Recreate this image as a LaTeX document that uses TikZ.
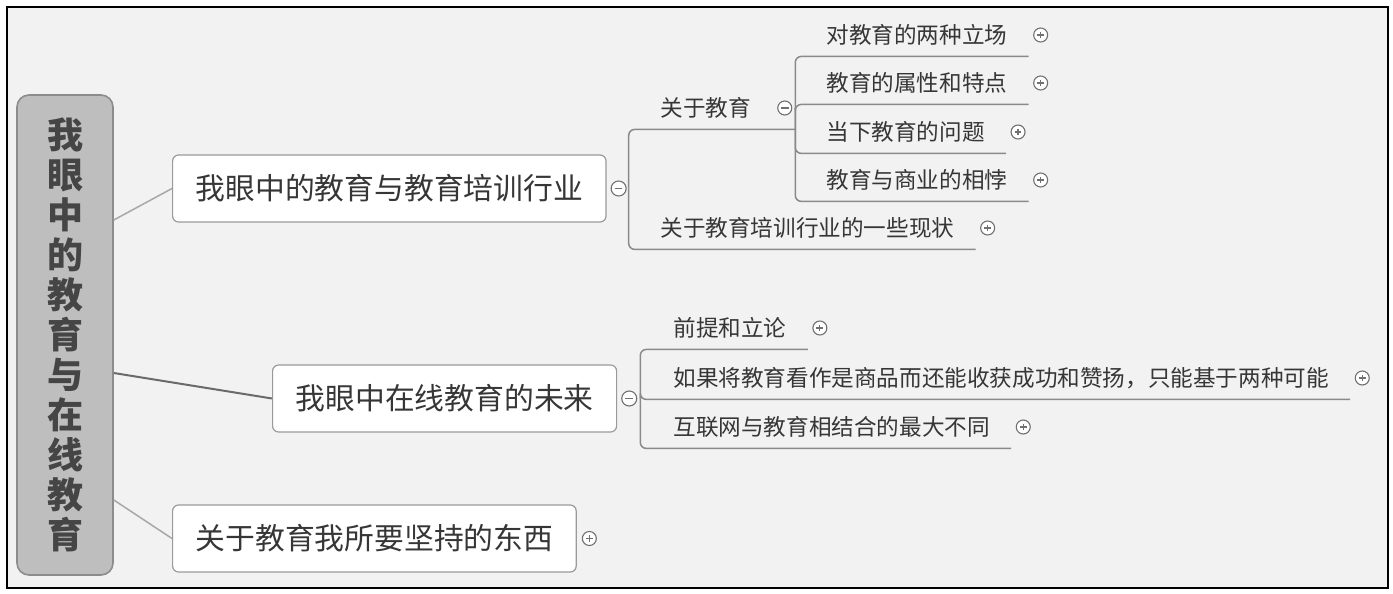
\documentclass[tikz,border=0pt]{standalone}
\usepackage{fontspec}
\setmainfont{Noto Sans CJK SC}
\usepackage{xcolor}
\usepackage{tikz}
\usetikzlibrary{positioning,calc}
\definecolor{framebg}{HTML}{F2F2F2}
\definecolor{rootfill}{HTML}{BEBEBE}
\definecolor{rootline}{HTML}{8C8C8C}
\definecolor{roottext}{HTML}{454545}
\definecolor{inktext}{HTML}{363636}
\definecolor{boxline}{HTML}{9A9A9A}
\definecolor{linegray}{HTML}{8A8A8A}
\definecolor{knobgray}{HTML}{707070}
\definecolor{lightlink}{HTML}{A8A8A8}
\definecolor{darklink}{HTML}{6A6A6A}

\begin{document}
\begin{tikzpicture}[x=0.5pt, y=-0.5pt,
    topic/.style={draw=boxline, fill=white, rounded corners=3pt, line width=0.6pt, anchor=west,
      minimum height=33.5pt, inner xsep=11.5pt, text=inktext, font=\fontsize{14.9pt}{16pt}\selectfont},
    leaf/.style={anchor=west, minimum height=21pt, inner sep=0pt, text=inktext,
      font=\fontsize{11.3pt}{13pt}\selectfont},
    knob/.style={circle, draw=knobgray, fill=white, line width=0.55pt, minimum size=7pt, inner sep=0pt},
    plusknob/.style={knob, path picture={
      \draw[knobgray, line width=0.6pt] ([xshift=-1.7pt]path picture bounding box.center) -- ([xshift=1.7pt]path picture bounding box.center);
      \draw[knobgray, line width=0.6pt] ([yshift=-1.7pt]path picture bounding box.center) -- ([yshift=1.7pt]path picture bounding box.center);}},
    minusknob/.style={knob, path picture={
      \draw[knobgray, line width=0.6pt] ([xshift=-1.9pt]path picture bounding box.center) -- ([xshift=1.9pt]path picture bounding box.center);}},
    twig/.style={draw=linegray, line width=0.75pt, rounded corners=3pt}]

    % Frame
    \fill[white] (0,0) rectangle (1393,594);
    \draw[fill=framebg, line width=0.8pt] (7,7) rectangle (1388,588);

    % Nodes
    \node[draw=rootline, fill=rootfill, rounded corners=6pt, line width=0.8pt, minimum width=48pt, minimum height=240pt,
      align=center, text=roottext, font=\fontsize{18pt}{20pt}\selectfont\bfseries] (root) at (65,335)
      {我\\眼\\中\\的\\教\\育\\与\\在\\线\\教\\育};

    \node[topic] (edu) at (172,188.5) {我眼中的教育与教育培训行业};
    \node[topic] (online) at (272,398.5) {我眼中在线教育的未来};
    \node[topic] (keep) at (172,538.5) {关于教育我所要坚持的东西};
    \node[minusknob, minimum size=7.5pt, right=2pt of edu] (eduk) {};
    \node[minusknob, minimum size=7.5pt, right=2pt of online] (onlinek) {};
    \node[plusknob, right=2.5pt of keep] (keepk) {};
    \coordinate[right=1pt of eduk] (eduj);
    \coordinate[right=1.5pt of onlinek] (onlinej);

    \node[leaf] (about) at (660,108) {关于教育};
    \node[minusknob, right=13pt of about] (aboutk) {};
    \coordinate[right=1.5pt of aboutk] (aboutj);
    \node[leaf] (status) at (660,228) {关于教育培训行业的一些现状};
    \node[plusknob, right=12.75pt of status] (statusk) {};

    \node[leaf] (stance) at (826,35) {对教育的两种立场};
    \node[plusknob, right=12.75pt of stance] (stancek) {};
    \node[leaf] (trait) at (826,83) {教育的属性和特点};
    \node[plusknob, right=12.75pt of trait] (traitk) {};
    \node[leaf] (issue) at (826,132) {当下教育的问题};
    \node[plusknob, right=12.75pt of issue] (issuek) {};
    \node[leaf] (clash) at (826,180) {教育与商业的相悖};
    \node[plusknob, right=12.75pt of clash] (clashk) {};

    \node[leaf] (premise) at (673,328) {前提和立论};
    \node[plusknob, right=12.75pt of premise] (premisek) {};
    \node[leaf] (goods) at (673,378) {如果将教育看作是商品而还能收获成功和赞扬，只能基于两种可能};
    \node[plusknob, right=12.75pt of goods] (goodsk) {};
    \node[leaf] (differ) at (673,427) {互联网与教育相结合的最大不同};
    \node[plusknob, right=12.75pt of differ] (differk) {};

    % Paths
    \draw[lightlink, line width=0.75pt] ($(root.east)+(0,-115)$) -- (edu.west);
    \draw[darklink, line width=1pt] ($(root.east)+(0,38)$) -- (online.west);
    \draw[lightlink, line width=0.75pt] ($(root.east)+(0,165)$) -- (keep.west);

    \draw[twig] (eduj) |- (about.south -| aboutj);
    \draw[twig] (eduj) |- ([xshift=10.5pt]status.south east);
    \draw[twig] (aboutj) |- ([xshift=10.5pt]stance.south east);
    \draw[twig] (aboutj) |- ([xshift=10.5pt]trait.south east);
    \draw[twig] (aboutj) |- ([xshift=10.5pt]issue.south east);
    \draw[twig] (aboutj) |- ([xshift=10.5pt]clash.south east);
    \draw[twig] (onlinej) |- ([xshift=10.5pt]premise.south east);
    \draw[twig] (onlinej) |- ([xshift=10.5pt]goods.south east);
    \draw[twig] (onlinej) |- ([xshift=10.5pt]differ.south east);
\end{tikzpicture}
\end{document}
